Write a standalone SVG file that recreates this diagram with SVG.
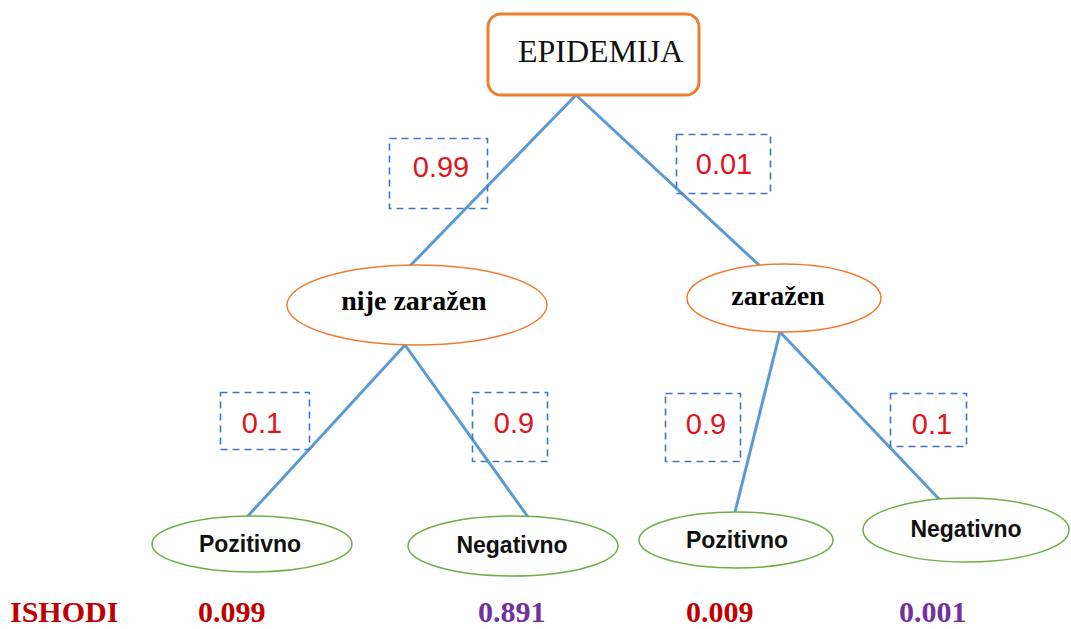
<svg xmlns="http://www.w3.org/2000/svg" width="1071" height="629" viewBox="0 0 1071 629">
<style>
.conn{stroke:#5b9bd5;stroke-width:3;fill:none;stroke-linecap:round}
.prob rect{fill:none;stroke:#4472c4;stroke-width:1.6;stroke-dasharray:7 5}
.prob text{font-family:"Liberation Sans",Arial,sans-serif;font-size:29px;fill:#e0141e;text-anchor:middle}
.mid ellipse{fill:#fff;stroke:#ed7d31;stroke-width:1.5}
.mid text{font-family:"Liberation Serif","Times New Roman",serif;font-weight:bold;font-size:28px;fill:#000;text-anchor:middle}
.leaf ellipse{fill:#fff;stroke:#70ad47;stroke-width:1.5}
.leaf text{font-family:"Liberation Sans",Arial,sans-serif;font-weight:bold;font-size:23px;fill:#111;text-anchor:middle}
.res{font-family:"Liberation Serif","Times New Roman",serif;font-weight:bold;font-size:30px}
</style>
<rect width="1071" height="629" fill="#fff"/>
<g id="connectors">
<line class="conn" x1="576" y1="95" x2="408" y2="268"/>
<line class="conn" x1="576" y1="95" x2="760" y2="266"/>
<line class="conn" x1="405" y1="345" x2="247" y2="517"/>
<line class="conn" x1="405" y1="345" x2="528" y2="517"/>
<line class="conn" x1="780" y1="332" x2="735" y2="512"/>
<line class="conn" x1="780" y1="332" x2="940" y2="500"/>
</g>
<g id="root">
<rect x="488" y="14" width="211" height="81" rx="13" fill="#fff" stroke="#ed7d31" stroke-width="3"/>
<text x="518" y="62" font-family="Liberation Serif,'Times New Roman',serif" font-size="32" fill="#111">EPIDEMIJA</text>
</g>
<g id="p-099" class="prob"><rect x="389.5" y="138.5" width="98" height="70"/><text x="441" y="177">0.99</text></g>
<g id="p-001" class="prob"><rect x="676.5" y="134.5" width="94" height="59"/><text x="724" y="174">0.01</text></g>
<g id="n-nije" class="mid"><ellipse cx="417" cy="305" rx="130" ry="40"/><text x="414" y="310">nije zaražen</text></g>
<g id="n-zarazen" class="mid"><ellipse cx="784" cy="298" rx="97" ry="34"/><text x="778" y="305">zaražen</text></g>
<g id="p-01a" class="prob"><rect x="220.5" y="392.5" width="89" height="57"/><text x="262" y="433">0.1</text></g>
<g id="p-09a" class="prob"><rect x="472.5" y="392.5" width="75" height="69"/><text x="514" y="433">0.9</text></g>
<g id="p-09b" class="prob"><rect x="665.5" y="393.5" width="75" height="68"/><text x="706" y="434">0.9</text></g>
<g id="p-01b" class="prob"><rect x="890.5" y="393.5" width="76" height="53"/><text x="932" y="434">0.1</text></g>
<g id="l-poz1" class="leaf"><ellipse cx="252" cy="544" rx="100" ry="28"/><text x="250" y="552">Pozitivno</text></g>
<g id="l-neg1" class="leaf"><ellipse cx="513" cy="546" rx="105" ry="30"/><text x="512" y="553">Negativno</text></g>
<g id="l-poz2" class="leaf"><ellipse cx="736" cy="540" rx="97" ry="28"/><text x="737" y="548">Pozitivno</text></g>
<g id="l-neg2" class="leaf"><ellipse cx="966" cy="530" rx="103" ry="32"/><text x="966" y="537">Negativno</text></g>
<g id="outcomes">
<text class="res" x="10" y="622" fill="#c00000">ISHODI</text>
<text class="res" x="198" y="622" fill="#c00000">0.099</text>
<text class="res" x="478" y="622" fill="#7030a0">0.891</text>
<text class="res" x="686" y="622" fill="#c00000">0.009</text>
<text class="res" x="899" y="622" fill="#7030a0">0.001</text>
</g>
</svg>
